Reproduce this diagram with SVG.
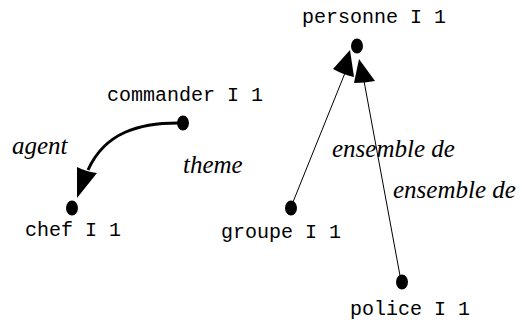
<svg xmlns="http://www.w3.org/2000/svg" width="522" height="322" viewBox="0 0 522 322">
<style>
.lbl{font-family:"Liberation Mono","Courier New",monospace;font-size:20px;fill:#000}
.rel{font-family:"Liberation Serif","Times New Roman",serif;font-style:italic;font-size:25px;fill:#000}
.dot{fill:#000}
.ln{stroke:#000;fill:none}
.head{fill:#000}
</style>
<rect width="522" height="322" fill="#fff"/>
<g id="connectors">
<path class="ln" stroke-width="3" d="M178,123 C140,123 105,132 88,170"/>
<path class="head" d="M77,198 L77,167 Q87,172 97,173 Z"/>
<line class="ln" stroke-width="1" x1="291" y1="207" x2="345" y2="73"/>
<path class="head" d="M350,50 L333,69 Q344,75 354,77 Z"/>
<line class="ln" stroke-width="1" x1="401" y1="281" x2="364" y2="81"/>
<path class="head" d="M359,59 L354,83 Q365,83 375,81 Z"/>
<text class="rel" x="12" y="154">agent</text>
<text class="rel" x="183" y="173">theme</text>
<text class="rel" x="332" y="157">ensemble de</text>
<text class="rel" x="393" y="198">ensemble de</text>
</g>
<g id="personne"><ellipse class="dot" cx="357" cy="46" rx="6" ry="7.5"/><text class="lbl" x="302" y="23">personne I 1</text></g>
<g id="commander"><ellipse class="dot" cx="183" cy="123" rx="6" ry="7.5"/><text class="lbl" x="107" y="101">commander I 1</text></g>
<g id="chef"><ellipse class="dot" cx="72" cy="208" rx="6" ry="7.5"/><text class="lbl" x="25" y="236">chef I 1</text></g>
<g id="groupe"><ellipse class="dot" cx="291" cy="208" rx="6" ry="7.5"/><text class="lbl" x="221" y="238">groupe I 1</text></g>
<g id="police"><ellipse class="dot" cx="402" cy="282" rx="6" ry="7.5"/><text class="lbl" x="350" y="315">police I 1</text></g>
</svg>
